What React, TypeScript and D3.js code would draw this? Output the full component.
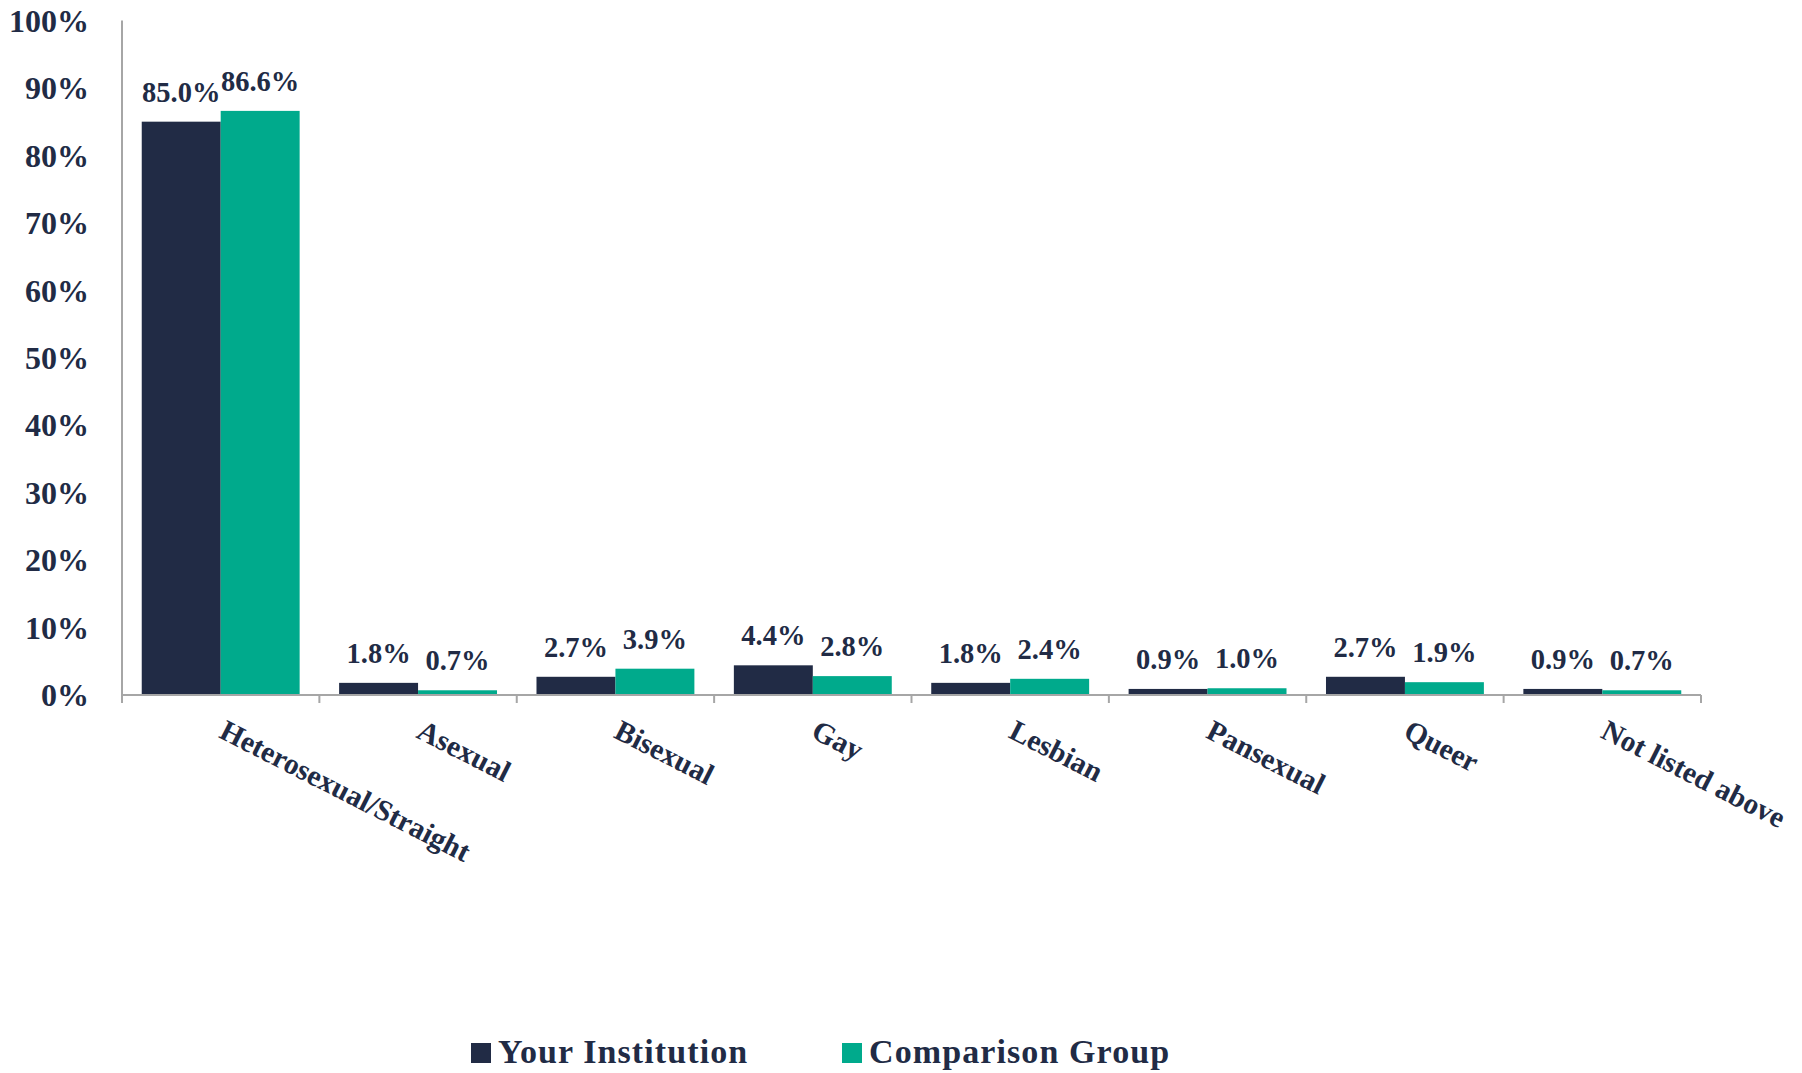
import React from "react";
import * as d3 from "d3";

const categories = [
  "Heterosexual/Straight",
  "Asexual",
  "Bisexual",
  "Gay",
  "Lesbian",
  "Pansexual",
  "Queer",
  "Not listed above",
];
const yourInstitution = [85.0, 1.8, 2.7, 4.4, 1.8, 0.9, 2.7, 0.9];
const comparisonGroup = [86.6, 0.7, 3.9, 2.8, 2.4, 1.0, 1.9, 0.7];
const seriesNames = ["Your Institution", "Comparison Group"];
const seriesColors = ["#212B45", "#00AA8C"];
const yTicks = [0, 10, 20, 30, 40, 50, 60, 70, 80, 90, 100];

const W = 1802;
const H = 1073;
const left = 122;
const right = 1701;
const top = 20.5;
const bottom = 695;
const FONT = "'Liberation Serif', 'Times New Roman', serif";
const TEXT = "#212B45";
const AXIS = "#A6A6A6";

export default function App() {
  const x = d3
    .scaleBand<string>()
    .domain(categories)
    .range([left, right])
    .paddingInner(0.2)
    .paddingOuter(0.1);
  const x1 = d3
    .scaleBand<string>()
    .domain(seriesNames)
    .range([0, x.bandwidth()]);
  const y = d3.scaleLinear().domain([0, 100]).range([bottom, top]);
  const step = x.step();
  const series = [yourInstitution, comparisonGroup];

  return (
    <div style={{ position: "absolute", left: 0, top: 0 }}>
      <svg width={W} height={H} style={{ display: "block", background: "#fff" }}>
        {/* y tick labels */}
        {yTicks.map((t) => (
          <text
            key={t}
            x={89}
            y={y(t)}
            dy="0.35em"
            textAnchor="end"
            fontFamily={FONT}
            fontWeight="bold"
            fontSize={32}
            fill={TEXT}
          >
            {t}%
          </text>
        ))}
        {/* bars */}
        {categories.map((c, i) => (
          <g key={c} transform={`translate(${x(c)},0)`}>
            {seriesNames.map((s, j) => {
              const v = series[j][i];
              return (
                <rect
                  key={s}
                  x={x1(s)}
                  y={y(v)}
                  width={x1.bandwidth()}
                  height={bottom - y(v)}
                  fill={seriesColors[j]}
                />
              );
            })}
            {seriesNames.map((s, j) => {
              const v = series[j][i];
              return (
                <text
                  key={s + "l"}
                  x={(x1(s) as number) + x1.bandwidth() / 2}
                  y={y(v) - 20}
                  textAnchor="middle"
                  fontFamily={FONT}
                  fontWeight="bold"
                  fontSize={28.5}
                  fill={TEXT}
                >
                  {v.toFixed(1)}%
                </text>
              );
            })}
          </g>
        ))}
        {/* axes */}
        <line x1={left} x2={left} y1={top} y2={bottom} stroke={AXIS} strokeWidth={2} />
        <line x1={left} x2={right} y1={bottom} y2={bottom} stroke={AXIS} strokeWidth={2} />
        {d3.range(categories.length + 1).map((k) => {
          const xx = left + k * step;
          return (
            <line key={k} x1={xx} x2={xx} y1={bottom} y2={bottom + 8} stroke={AXIS} strokeWidth={2} />
          );
        })}
        {/* category labels */}
        {categories.map((c) => {
          const cx = (x(c) as number) + x.bandwidth() / 2;
          return (
            <text
              key={c}
              transform={`translate(${cx - 3},${737}) rotate(27)`}
              textAnchor="start"
              fontFamily={FONT}
              fontWeight="bold"
              fontSize={29.5}
              fill={TEXT}
            >
              {c}
            </text>
          );
        })}
        {/* legend */}
        {seriesNames.map((s, j) => {
          const lx = [471, 842][j];
          return (
            <g key={s}>
              <rect x={lx} y={1043} width={20} height={20} fill={seriesColors[j]} />
              <text
                x={lx + 27}
                y={1063}
                fontFamily={FONT}
                fontWeight="bold"
                fontSize={34}
                letterSpacing={1.1}
                fill={TEXT}
              >
                {s}
              </text>
            </g>
          );
        })}
      </svg>
    </div>
  );
}
